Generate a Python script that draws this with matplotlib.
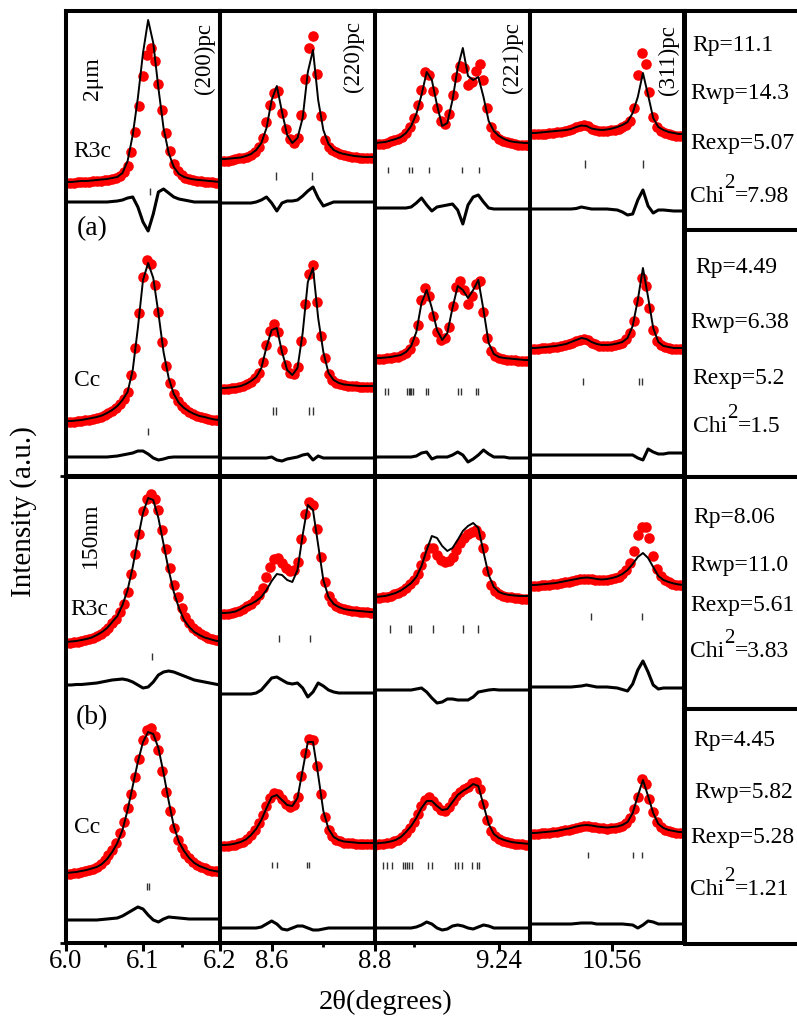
import numpy as np
import matplotlib.pyplot as plt

plt.rcParams['font.family'] = ['Liberation Serif', 'DejaVu Serif']

W, H = 797, 1027

# 2-theta windows (degrees), one per reflection column
# observed points are sampled more densely than the calculated / difference curves
tt_200 = np.linspace(6.00, 6.20, 31)
tt_220 = np.linspace(8.50, 8.80, 31)
tt_221 = np.linspace(8.92, 9.32, 31)
tt_311 = np.linspace(10.40, 10.70, 31)
tt_200_obs = np.linspace(6.00, 6.20, 41)
tt_220_obs = np.linspace(8.50, 8.80, 41)
tt_221_obs = np.linspace(8.92, 9.32, 41)
tt_311_obs = np.linspace(10.40, 10.70, 41)

# ---------------- 2 um sample, R3c fit (offset intensities, a.u.) ----------------
obs_2um_r3c_200 = [293, 293, 293.2, 293.6, 294, 294, 294.2, 294.6, 295, 295.4, 295.8, 296.2, 297, 298.5, 300.3, 303.8, 310, 324.5, 344, 370,
                   400, 421.5, 428, 415.5, 392, 366.5, 343, 325, 312, 305, 301, 298.5, 297, 295.8, 295.2, 294.9, 294.5, 294.1, 293.8, 293.4, 293]
calc_2um_r3c_200 = [294, 294, 294.5, 295, 295, 295.5, 296, 296.5, 297, 298, 299, 303, 315, 341, 378, 423, 456, 433, 388, 348, 323, 309, 302, 299, 297.5, 296.5, 296, 295.5, 295, 294.5, 294]
diff_2um_r3c_200 = [274, 274, 274, 274, 274, 274, 274, 274, 274, 274.5, 275, 276, 278, 279, 269, 254, 245, 262, 284, 287, 283, 279, 277, 276, 275, 274, 274, 274, 274, 274, 274]
hkl_2um_r3c_200 = [6.109]

obs_2um_r3c_220 = [315, 315, 315.5, 316.2, 317, 317.8, 318.5, 319.5, 321, 323.8, 329, 338.5, 354, 371, 383, 385, 363, 347.5, 337, 333.5,
                   338, 361, 397, 428.5, 440, 402, 360, 336, 329, 326, 324, 322.5, 321, 320.2, 319.5, 318.8, 318, 318, 318, 318, 318]
calc_2um_r3c_220 = [317, 317, 317.5, 318, 318.5, 320, 322, 326, 333, 348, 376, 390, 364, 341, 333, 338, 358, 404, 426, 376, 346, 332, 326, 323.5, 322, 321, 320, 319.5, 319, 319, 319]
diff_2um_r3c_220 = [273, 273, 273, 273, 273, 273, 273, 274, 276, 279, 273, 265, 273, 275, 275, 276, 280, 285, 289, 278, 270, 272, 274, 274, 274, 274, 274, 274, 274, 274, 274]
hkl_2um_r3c_220 = [8.608, 8.678]

obs_2um_r3c_221 = [332, 332, 332.5, 333.5, 335, 335.8, 337, 339, 343, 349.5, 358, 371, 386, 404, 401, 385.5, 368, 355.5, 352, 362,
                   381, 399, 410, 408, 391, 394, 405, 412, 396, 368, 349, 341, 337, 335.5, 334, 332.8, 332, 331.2, 331, 330.8, 330]
calc_2um_r3c_221 = [333, 333.5, 334, 335.5, 337, 339, 343, 350, 362, 381, 404, 396, 371, 350, 353, 376, 408, 428, 400, 396, 399, 379, 355, 345, 340, 337, 335, 334, 333.5, 333, 333]
diff_2um_r3c_221 = [268, 268, 268, 268, 268, 268, 268, 269, 273, 278, 271, 265, 269, 270, 271, 272, 266, 252, 271, 279, 281, 274, 268, 267, 267, 267, 267, 267, 267, 267, 267]
hkl_2um_r3c_221 = [8.9535, 9.0077, 9.0155, 9.0594, 9.1445, 9.1884]

obs_2um_r3c_311 = [342, 342, 342, 342.1, 342.5, 342.9, 343.5, 344.1, 344.5, 344.9, 345.8, 347.2, 349, 350.5, 351, 349.8, 347.5, 346.4, 345.5, 345,
                   345, 345.8, 346.5, 347.5, 349, 351.2, 355, 368.5, 401, 423, 412, 384, 359, 349, 345.5, 343.5, 342, 341.2, 340.5, 340, 340]
calc_2um_r3c_311 = [343, 343, 343.5, 344, 344.5, 345, 345.5, 346, 347, 349, 350.5, 350, 347.5, 346.5, 346, 346.5, 347.5, 349, 351, 354, 363, 379, 403, 381, 358, 349, 346, 344, 343, 342, 342]
diff_2um_r3c_311 = [267, 267, 267, 267, 267, 267, 267, 267, 267, 267.5, 269, 268, 267, 267, 267, 267, 266.5, 266, 264, 261, 262, 276, 286, 270, 263, 266, 266, 265.5, 265, 265, 265]
hkl_2um_r3c_311 = [10.507, 10.620]

# ---------------- 2 um sample, Cc fit ----------------
obs_2um_cc_200 = [54, 54, 54.2, 54.6, 55, 55.8, 56.5, 57.2, 58, 59.2, 60.8, 62.8, 65, 68, 72, 77, 84, 101, 128, 163.5,
                  199, 216, 212, 191.5, 164, 134.5, 110, 93.5, 82, 75, 70, 67, 64, 62.2, 60.5, 59.2, 58, 57.2, 56.5, 55.8, 55]
calc_2um_cc_200 = [55, 55, 55.5, 56, 57, 58, 59, 60.5, 63, 66, 70, 76, 84, 106, 148, 196, 213, 198, 163, 124, 98, 82, 73, 68, 64.5, 62, 60, 59, 57.5, 56.5, 56]
diff_2um_cc_200 = [19, 19, 19, 19, 19, 19, 19, 19, 19, 19.5, 20, 21, 22, 23, 25, 25, 22, 18, 16, 17, 18.5, 19, 19, 19, 19, 19, 19, 19, 19, 19, 19]
hkl_2um_cc_200 = [6.1065]

obs_2um_cc_220 = [87, 87, 87.2, 87.6, 88, 88.8, 90, 91.8, 94, 97.8, 103.5, 114, 131, 145, 152, 144.5, 126, 111.5, 103, 102.5,
                  109, 135, 172, 202.5, 211, 174.5, 140, 118, 102, 96.5, 93.5, 91.8, 91, 90.2, 90, 89.8, 89, 89, 89, 89, 89]
calc_2um_cc_220 = [88, 88, 88.5, 89, 90, 92, 95, 99, 108, 129, 146, 148, 124, 106, 101, 108, 143, 194, 208, 158, 124, 103, 96, 93, 91.5, 91, 90.5, 90, 90, 90, 90]
diff_2um_cc_220 = [18, 18, 18, 18, 18, 18, 18, 18, 18, 18, 19, 16, 15, 17, 18, 19, 21, 22, 16, 20, 18, 18, 18, 18, 18, 18, 18, 18, 18, 18, 18]
hkl_2um_cc_220 = [8.6026, 8.6084, 8.6723, 8.680]

obs_2um_cc_221 = [117, 117, 117.2, 117.6, 118, 118.8, 119.5, 120.6, 123, 127.2, 135, 151, 176, 188, 180, 160, 144, 136.5, 138, 149.5,
                  170, 189.5, 195, 186.5, 172, 180, 192, 195, 164, 138.5, 125, 120.2, 118, 117.2, 116.5, 116, 116, 115.2, 115, 115, 115]
calc_2um_cc_221 = [118, 118, 118.5, 119, 120, 121, 124, 130, 144, 173, 186, 168, 146, 136, 143, 168, 190, 186, 178, 186, 196, 166, 133, 122, 119, 118, 117.5, 117, 116.5, 116, 116]
diff_2um_cc_221 = [19, 19, 19, 19, 19, 19, 19, 19, 20, 23, 24, 17, 19, 19, 19, 21, 24, 21, 14, 17, 21, 26, 22, 19, 19, 19, 18, 18, 18, 18, 18]
hkl_2um_cc_221 = [8.9458, 8.9535, 9.0026, 9.0077, 9.0103, 9.0129, 9.0181, 9.0516, 9.0568, 9.1342, 9.1419, 9.1806, 9.1858]

obs_2um_cc_311 = [127, 127, 127.2, 127.6, 128, 128.4, 128.8, 129.2, 130, 130.8, 132, 133.5, 135, 136.5, 137, 135.8, 133.5, 131.6, 130.5, 130,
                  130, 130.4, 131, 132, 133.5, 136.8, 143, 155.5, 175, 198, 190, 168, 146, 135.5, 131, 128.8, 128, 127.2, 127, 127, 127]
calc_2um_cc_311 = [128, 128, 128.5, 129, 129.5, 130, 131, 132, 134, 136, 138, 137, 134, 132, 131, 131, 131.5, 132.5, 134, 138, 150, 176, 208, 179, 148, 134, 130, 129, 128, 128, 128]
diff_2um_cc_311 = [21, 21, 21, 21, 21, 21, 21, 21, 21, 21, 21, 21, 21, 21, 21, 21, 21, 21, 21, 21, 21, 18, 16, 27, 24, 22, 22, 23, 23, 23, 23]
hkl_2um_cc_311 = [10.5032, 10.6123, 10.6182]

# ---------------- 150 nm sample, R3c fit ----------------
obs_150nm_r3c_200 = [300, 300.4, 300.8, 301.2, 302, 302.8, 303.8, 305.2, 307, 309.2, 312, 315.5, 320, 324.5, 331, 339.5, 351, 369.5, 389, 409.5,
                     432, 444, 449, 444, 433, 413, 394, 375, 358, 346, 335, 326.5, 320, 315.5, 312, 309.2, 307, 305.5, 304, 302.8, 302]
calc_150nm_r3c_200 = [301, 301.5, 302, 303, 304, 305.5, 308, 311, 315, 321, 327, 338, 353, 376, 404, 430, 445, 443, 425, 399, 373, 351, 335, 323, 316, 311, 308, 305.5, 304, 302.5, 301.5]
diff_150nm_r3c_200 = [258, 258, 258.5, 258.5, 259, 259.5, 260, 261, 262, 263, 263.5, 264, 263, 261, 258, 255, 256, 261, 268, 271, 272, 271, 269, 267, 265, 263, 262, 261, 260, 259, 258]
hkl_150nm_r3c_200 = [6.1117]

obs_150nm_r3c_220 = [329, 329, 329.5, 330.2, 331, 332.5, 334.5, 336.8, 339, 342.8, 348, 355.5, 366, 376.5, 384, 385, 380, 374.8, 372, 373.5,
                     381, 404, 429, 441.5, 438, 414.5, 386, 361.5, 347, 340.8, 337.5, 335.5, 334, 332.8, 332.2, 331.9, 331.5, 331.1, 330.8, 330.4, 330]
calc_150nm_r3c_220 = [330, 330, 330.5, 331.5, 334, 337, 339, 342, 346, 353, 362, 369, 368, 363, 361, 373, 408, 438, 433, 398, 363, 346, 339, 336, 334, 333, 332.5, 332, 331.5, 331, 331]
diff_150nm_r3c_220 = [249, 249, 249, 249, 249, 249, 249, 250, 253, 259, 265, 266, 263, 260, 259, 260, 255, 246, 251, 260, 257, 253, 251, 250, 250, 250, 250, 250, 250, 250, 250]
hkl_150nm_r3c_220 = [8.6142, 8.6742]

obs_150nm_r3c_221 = [345, 345.4, 345.8, 346.4, 347.5, 348.6, 350.2, 352.4, 355, 358.8, 363.5, 369.5, 378, 387.5, 395, 395, 388, 383.5, 381, 382,
                     386, 393.5, 400, 405.5, 409, 411.5, 413, 408.5, 395, 372.5, 358, 352, 349, 347.5, 346.5, 345.8, 345, 344.6, 344.2, 344, 344]
calc_150nm_r3c_221 = [346, 346.5, 347, 348.5, 350, 352.5, 356, 360, 366, 377, 393, 407, 405, 397, 392, 395, 403, 412, 417, 420, 415, 391, 368, 356, 351, 349, 348, 347.5, 347, 347, 347]
diff_150nm_r3c_221 = [253, 253, 253, 253, 253, 253, 253, 253, 254, 255, 251, 245, 240, 241, 244, 244, 243, 243, 243, 246, 251, 252, 253, 253.5, 253, 253, 253, 253, 253, 253, 253]
hkl_150nm_r3c_221 = [8.9587, 9.0077, 9.0129, 9.0697, 9.1471, 9.1858]

obs_150nm_r3c_311 = [357, 357, 357.2, 357.6, 358, 358.4, 358.8, 359.2, 360, 360.8, 361.5, 362.2, 363, 363.8, 364.2, 364.4, 364, 363.2, 362.8, 362.6,
                     363, 363.8, 364.8, 366.2, 369, 373.2, 380, 392.5, 408, 416.5, 416, 405, 387, 374.5, 367, 363.2, 361, 359.5, 358.5, 357.8, 357]
calc_150nm_r3c_311 = [358, 358, 358.5, 359, 359.5, 360, 361, 362, 363, 364, 365, 365.5, 365, 364, 363.5, 364, 365, 366.5, 369, 373, 379, 386, 390, 385, 376, 367, 363, 361, 359.5, 358.5, 358]
diff_150nm_r3c_311 = [256, 256, 256, 256, 256, 256, 256, 256, 256, 256.5, 257, 258, 257, 256, 256, 256, 255.5, 255, 253.5, 252, 259, 273, 282, 271, 258, 254, 255, 255, 255, 255, 255]
hkl_150nm_r3c_311 = [10.5188, 10.6182]

# ---------------- 150 nm sample, Cc fit ----------------
obs_150nm_cc_200 = [69, 69.4, 69.8, 70.2, 71, 71.8, 72.8, 74.2, 76, 79, 83, 87.8, 93, 100.5, 110, 121.5, 135, 149, 166, 184.5,
                    203, 213.5, 215, 207.5, 193, 172, 151, 132, 115, 103.5, 95, 89.5, 85, 81.2, 78.5, 76.5, 75, 73.5, 72.5, 71.8, 71]
calc_150nm_cc_200 = [70, 70.5, 71, 72, 73, 74.5, 76, 79, 84, 91, 100, 113, 133, 157, 181, 201, 211, 209, 195, 170, 142, 117, 101, 92, 85, 80, 77, 75, 73, 72, 71]
diff_150nm_cc_200 = [23, 23, 23, 23, 23, 23, 23, 23.5, 24, 24.5, 25, 27, 30, 33, 36, 34, 28, 23, 21, 24, 26, 25.5, 25, 24.5, 24, 24, 24, 24, 24, 24, 24]
hkl_150nm_cc_200 = [6.1052, 6.1078]

obs_150nm_cc_220 = [97, 97, 97.2, 97.8, 98.5, 99.6, 101.2, 103.8, 108, 113.2, 120, 128, 137, 145.5, 150, 148.8, 144, 138.8, 136, 138,
                    146, 167, 190, 204.5, 203, 177.5, 149, 126, 113, 106.8, 103.5, 101.6, 100.5, 100.1, 99.8, 99.4, 99, 99, 99, 99, 99]
calc_150nm_cc_220 = [98, 98, 98.5, 99.5, 101, 103.5, 108, 114, 123, 135, 146, 148, 143, 138, 137, 145, 173, 201, 201, 168, 132, 114, 106, 103, 101.5, 101, 100.5, 100, 100, 100, 100]
diff_150nm_cc_220 = [15, 15, 15, 15, 15, 15, 15, 15, 16, 19, 22, 19, 14, 13, 15, 17, 17, 15, 13, 13, 14, 15, 15, 15, 15, 15, 15, 15, 15, 15, 15]
hkl_150nm_cc_220 = [8.6006, 8.6103, 8.6684, 8.6723]

obs_150nm_cc_221 = [98.5, 98.9, 99.2, 99.8, 100.5, 101.6, 103.5, 106.2, 110, 115.2, 121.5, 128.8, 137, 143.5, 146, 142.5, 137, 133, 132.5, 136,
                    142, 147.5, 151, 153.8, 156, 159.8, 161, 154, 139, 123, 112.5, 107, 104, 102.5, 101.2, 100.2, 99.5, 99.1, 98.8, 98.4, 98]
calc_150nm_cc_221 = [99.5, 100, 100.5, 101.5, 103, 106, 111, 117, 125, 135, 142, 142, 137, 133, 134, 141, 148, 152, 155, 159, 157, 138, 119, 109, 105, 103, 101.5, 100.5, 100, 99.5, 99]
diff_150nm_cc_221 = [15, 15, 15, 15, 15, 15, 15, 15, 16, 18, 21, 19, 15, 13, 14, 17, 18, 17, 15, 14, 16, 18, 17, 15, 15, 15, 15, 15, 15, 15, 15]
hkl_150nm_cc_221 = [8.9406, 8.951, 8.9639, 8.9923, 8.9974, 9.0026, 9.0077, 9.0155, 9.0568, 9.0671, 9.1264, 9.1342, 9.1445, 9.1703, 9.1832, 9.1884]

obs_150nm_cc_311 = [109, 109, 109.2, 109.6, 110, 110.4, 110.8, 111.2, 112, 112.8, 113.5, 114.4, 115.5, 116.2, 116.8, 116.9, 116.5, 115.8, 115.2, 114.9,
                    114.5, 114.9, 115.2, 115.8, 117, 119.8, 125, 134.5, 146, 164, 159, 144.5, 131, 121.5, 116, 113.5, 112, 111.2, 110.5, 110, 110]
calc_150nm_cc_311 = [110, 110, 110.5, 111, 111.5, 112, 113, 114, 115, 116.5, 117.5, 118, 117.5, 116.5, 116, 115.5, 116, 116.5, 118, 121, 130, 147, 163, 147, 130, 119, 115, 113, 112, 111, 111]
diff_150nm_cc_311 = [19, 19, 19, 19, 19, 19, 19, 19, 19, 19.5, 20, 20, 20, 19, 19, 19, 19, 19, 19, 18.5, 18, 15, 18, 22, 21, 19, 19, 19, 19, 19, 19]
hkl_150nm_cc_311 = [10.513, 10.6007, 10.6182]

# refinement agreement factors, one box per fit
rp = ['11.1', '4.49', '8.06', '4.45']
rwp = ['14.3', '6.38', '11.0', '5.82']
rexp = ['5.07', '5.2', '5.61', '5.28']
chi2 = ['7.98', '1.5', '3.83', '1.21']

refl_labels = ['(200)pc', '(220)pc', '(221)pc', '(311)pc']


def fx(px):
    return px / W


def fy(py):
    return 1 - py / H


def draw_pattern(ax, tt_obs, tt, obs, calc, diff, hkl, tick_lo, tick_hi):
    ax.plot(tt_obs, obs, 'o', ms=7.6, color='#ff0000', mec='#ff0000', mew=0, zorder=2)
    ax.plot(tt, calc, '-', color='black', lw=1.4, zorder=3)
    ax.plot(tt, diff, '-', color='black', lw=2.2, zorder=3, solid_joinstyle='round')
    ax.vlines(hkl, tick_lo, tick_hi, color='#333333', lw=1.0, zorder=3)


fig = plt.figure(figsize=(W / 100, H / 100), dpi=100)

col_px = [(66, 220), (220, 375), (375, 530), (530, 684)]
col_tt = [tt_200, tt_220, tt_221, tt_311]
col_tt_obs = [tt_200_obs, tt_220_obs, tt_221_obs, tt_311_obs]
col_lim = [(6.0, 6.2), (8.5, 8.8), (8.92, 9.32), (10.40, 10.70)]
col_major = [[6.0, 6.1, 6.2], [8.6, 8.8], [9.24], [10.56]]
col_minor = [[6.05, 6.15], [8.7], [9.02], []]
col_ticklab = [['6.0', '6.1', '6.2'], ['8.6', '8.8'], ['9.24'], ['10.56']]

top = {
    'r3c': [(obs_2um_r3c_200, calc_2um_r3c_200, diff_2um_r3c_200, hkl_2um_r3c_200),
            (obs_2um_r3c_220, calc_2um_r3c_220, diff_2um_r3c_220, hkl_2um_r3c_220),
            (obs_2um_r3c_221, calc_2um_r3c_221, diff_2um_r3c_221, hkl_2um_r3c_221),
            (obs_2um_r3c_311, calc_2um_r3c_311, diff_2um_r3c_311, hkl_2um_r3c_311)],
    'cc': [(obs_2um_cc_200, calc_2um_cc_200, diff_2um_cc_200, hkl_2um_cc_200),
           (obs_2um_cc_220, calc_2um_cc_220, diff_2um_cc_220, hkl_2um_cc_220),
           (obs_2um_cc_221, calc_2um_cc_221, diff_2um_cc_221, hkl_2um_cc_221),
           (obs_2um_cc_311, calc_2um_cc_311, diff_2um_cc_311, hkl_2um_cc_311)],
}
bottom = {
    'r3c': [(obs_150nm_r3c_200, calc_150nm_r3c_200, diff_150nm_r3c_200, hkl_150nm_r3c_200),
            (obs_150nm_r3c_220, calc_150nm_r3c_220, diff_150nm_r3c_220, hkl_150nm_r3c_220),
            (obs_150nm_r3c_221, calc_150nm_r3c_221, diff_150nm_r3c_221, hkl_150nm_r3c_221),
            (obs_150nm_r3c_311, calc_150nm_r3c_311, diff_150nm_r3c_311, hkl_150nm_r3c_311)],
    'cc': [(obs_150nm_cc_200, calc_150nm_cc_200, diff_150nm_cc_200, hkl_150nm_cc_200),
           (obs_150nm_cc_220, calc_150nm_cc_220, diff_150nm_cc_220, hkl_150nm_cc_220),
           (obs_150nm_cc_221, calc_150nm_cc_221, diff_150nm_cc_221, hkl_150nm_cc_221),
           (obs_150nm_cc_311, calc_150nm_cc_311, diff_150nm_cc_311, hkl_150nm_cc_311)],
}
# vertical span of the Bragg marker rows (a.u.)
top_marks = {'r3c': [(281, 288), (296, 304), (303, 309), (308, 316)],
             'cc': [(41, 48), (61, 69), (81, 88), (91, 98)]}
bottom_marks = {'r3c': [(283, 290), (301, 308), (310, 318), (323, 330)],
                'cc': [(53, 60), (75, 81), (74, 81), (85, 91)]}

blocks = [(11, 476, top, top_marks, False), (477, 943, bottom, bottom_marks, True)]
SPINE = 2.9

for y0, y1, data, marks, show_x in blocks:
    for c, (x0, x1) in enumerate(col_px):
        ax = fig.add_axes([fx(x0), fy(y1), (x1 - x0) / W, (y1 - y0) / H])
        for phase in ('r3c', 'cc'):
            obs, calc, diff, hkl = data[phase][c]
            lo, hi = marks[phase][c]
            draw_pattern(ax, col_tt_obs[c], col_tt[c], obs, calc, diff, hkl, lo, hi)
        ax.set_xlim(*col_lim[c])
        ax.set_ylim(0, y1 - y0)
        ax.set_yticks([])
        for s in ax.spines.values():
            s.set_linewidth(SPINE)
        if show_x:
            ax.set_xticks(col_major[c])
            ax.set_xticklabels(col_ticklab[c], fontsize=19.4)
            ax.set_xticks(col_minor[c], minor=True)
            ax.tick_params(axis='x', which='major', direction='out', length=6, width=2.2, pad=-2)
            ax.tick_params(axis='x', which='minor', direction='out', length=3, width=2.0)
        else:
            ax.set_xticks([])
            ax.set_xticks([], minor=True)
        if c == 0:
            ax.set_yticks([0])
            ax.set_yticklabels([])
            ax.tick_params(axis='y', direction='out', length=4, width=2.0)

# R-factor boxes
boxes = [(11, 230), (230, 477), (477, 709), (709, 944)]
for y0, y1 in boxes:
    tax = fig.add_axes([fx(685), fy(y1), 140 / W, (y1 - y0) / H])
    tax.set_xticks([])
    tax.set_yticks([])
    for s in tax.spines.values():
        s.set_linewidth(SPINE)

fs = 17
rp_pos = [(692, 51), (695, 273), (693, 523), (693, 746)]
rwp_pos = [(690, 99), (690, 328), (690, 571), (694, 798)]
rexp_pos = [(690, 149), (692, 384), (690, 611), (690, 843)]
chi_pos = [(690, 202), (693, 432), (690, 657), (690, 895)]

fig.canvas.draw()
renderer = fig.canvas.get_renderer()
for i in range(4):
    fig.text(fx(rp_pos[i][0]), fy(rp_pos[i][1]), 'Rp=' + rp[i], size=fs, va='baseline')
    fig.text(fx(rwp_pos[i][0]), fy(rwp_pos[i][1]), 'Rwp=' + rwp[i], size=fs, va='baseline')
    fig.text(fx(rexp_pos[i][0]), fy(rexp_pos[i][1]), 'Rexp=' + rexp[i], size=fs, va='baseline')
    cx, cy = chi_pos[i]
    t = fig.text(fx(cx), fy(cy), 'Chi', size=fs, va='baseline')
    bb = t.get_window_extent(renderer)
    s2 = fig.text(bb.x1 / W, fy(cy - 14), '2', size=15, va='baseline')
    bb2 = s2.get_window_extent(renderer)
    fig.text(bb2.x1 / W, fy(cy), '=' + chi2[i], size=fs, va='baseline')

# reflection labels
for lab, (x, y) in zip(refl_labels, [(204, 59), (353, 57), (512, 58), (668, 60)]):
    fig.text(fx(x), fy(y), lab, size=16.5, rotation=90, ha='center', va='center')

fig.text(fx(92), fy(79), '2\u03bcm', size=17, rotation=90, ha='center', va='center')
fig.text(fx(90), fy(535), '150nm', size=17, rotation=90, ha='center', va='center')
fig.text(fx(73), fy(157), 'R3c', size=17, va='baseline')
fig.text(fx(74), fy(386), 'Cc', size=17, va='baseline')
fig.text(fx(70), fy(615), 'R3c', size=17, va='baseline')
fig.text(fx(74), fy(833), 'Cc', size=17, va='baseline')
fig.text(fx(77), fy(235), '(a)', size=20, va='baseline')
fig.text(fx(76), fy(724), '(b)', size=20, va='baseline')

fig.text(fx(24), fy(512), 'Intensity (a.u.)', size=21, rotation=90, ha='center', va='center')
fig.text(fx(386), fy(1002), '2\u03b8(degrees)', size=20.5, ha='center', va='center')

fig.savefig('out.png', dpi=100)
